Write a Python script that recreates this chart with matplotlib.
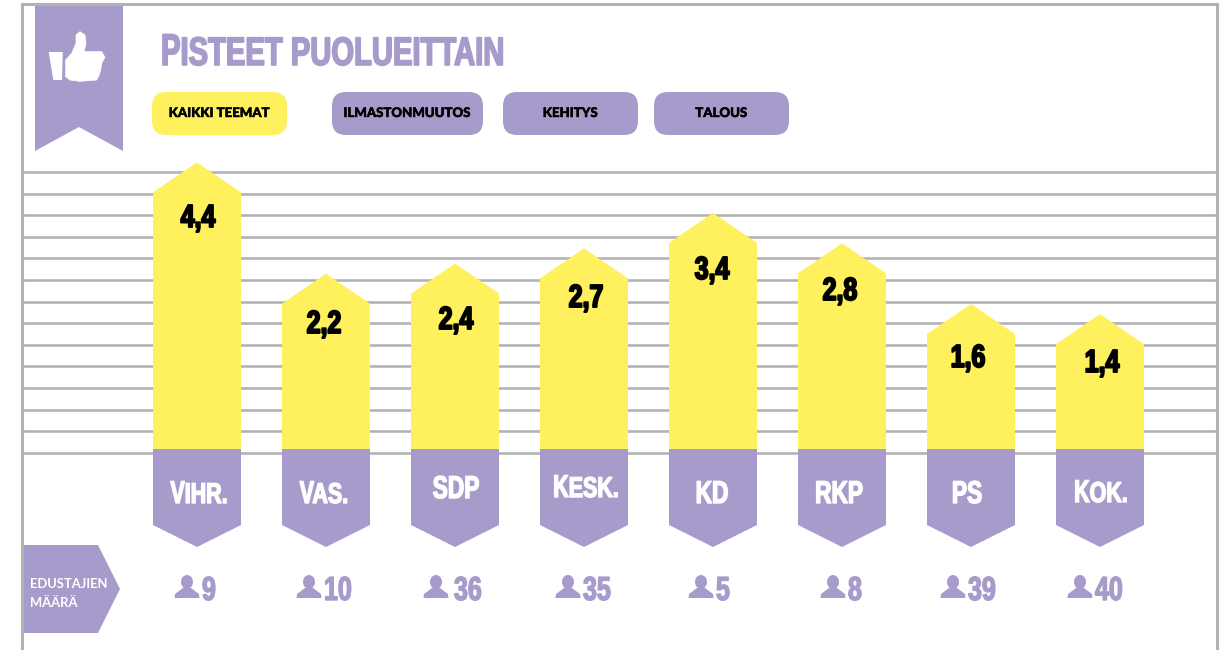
import matplotlib
matplotlib.use("Agg")
import matplotlib.pyplot as plt
import matplotlib.patheffects as pe
import numpy as np
from matplotlib.font_manager import FontProperties
from matplotlib.patches import Ellipse, FancyBboxPatch, Polygon
from matplotlib.path import Path
from matplotlib.textpath import text_to_path
from matplotlib.transforms import Affine2D, blended_transform_factory

# data
parties = ["VIHR.", "VAS.", "SDP", "KESK.", "KD", "RKP", "PS", "KOK."]
small_caps = [True, True, False, True, False, False, False, True]
scores = [4.4, 2.2, 2.4, 2.7, 3.4, 2.8, 1.6, 1.4]
score_labels = ["4,4", "2,2", "2,4", "2,7", "3,4", "2,8", "1,6", "1,4"]
seats = [9, 10, 36, 35, 5, 8, 39, 40]
themes = ["KAIKKI TEEMAT", "ILMASTONMUUTOS", "KEHITYS", "TALOUS"]

PURPLE = "#a79bcc"
YELLOW = "#fff05e"
GREY = "#b3b3b3"
FONT = "Liberation Sans"

W, H = 1224, 650
X0, DX = 197, 129      # pixel of first bar centre, pixels per party
Y0, DY = 415, 50.6     # pixel of score 0, pixels per point
BAR_W = 88 / DX
CAP = 30 / DY
BASE = (Y0 - 449) / DY


class Condense(pe.AbstractPathEffect):
    # no condensed font around, so squeeze the glyphs sideways from the text origin
    # head_n vertices at the start (the first letter) get stretched up for small caps
    def __init__(self, sx, stroke, head_n=0, head_y=1.0):
        super().__init__()
        self.sx = sx
        self.stroke = stroke
        self.head_n = head_n
        self.head_y = head_y

    def draw_path(self, renderer, gc, tpath, affine, rgbFace=None):
        verts = tpath.vertices.copy()
        verts[:self.head_n, 1] *= self.head_y
        gc0 = renderer.new_gc()
        gc0.copy_properties(gc)
        gc0.set_linewidth(self.stroke)
        gc0.set_foreground(rgbFace)
        renderer.draw_path(gc0, Path(verts, tpath.codes), Affine2D().scale(self.sx, 1) + affine, rgbFace)
        gc0.restore()


fig = plt.figure(figsize=(W / 100, H / 100), dpi=100, facecolor="white")

# page furniture lives in pixel coordinates
page = fig.add_axes([0, 0, 1, 1], zorder=0)
page.set_xlim(0, W)
page.set_ylim(H, 0)
page.axis("off")

ax = fig.add_axes([0, 0, 1, 1], zorder=1)
ax.set_xlim(-X0 / DX, (W - X0) / DX)
ax.set_ylim((Y0 - H) / DY, Y0 / DY)
ax.axis("off")
ax.patch.set_alpha(0)
x_cat_y_px = blended_transform_factory(ax.transData, page.transData)

# frame and grid
for y in np.arange(172, 455, 21.6):
    page.plot([22, 1217], [y, y], color=GREY, lw=1.9, solid_capstyle="butt")
page.plot([22, 22, 1217, 1217], [H, 4, 4, H], color=GREY, lw=2.2, solid_joinstyle="miter")

# ribbon with thumb
page.add_patch(Polygon([(35, 5), (123, 5), (123, 151), (79, 127), (35, 151)], color=PURPLE, lw=0))
page.add_patch(Polygon([(48.7, 52), (62.7, 52), (62, 80), (53.3, 80)], color="white", lw=0))
hand = [(197, 180), (215, 160), (228, 130), (228, 105), (240, 95), (255, 105), (258, 130), (252, 155),
        (305, 155), (315, 172), (305, 190), (303, 205), (298, 225), (290, 240), (240, 244), (210, 240), (197, 230)]
page.add_patch(Polygon(np.array(hand) / 3, fc="white", ec="white", lw=0.5, joinstyle="round"))

fig.canvas.draw()
renderer = fig.canvas.get_renderer()
prop = FontProperties(family=FONT, weight="bold")


def squeezed(x, y, s, size, color, sx, stroke, center=False, head_y=1.0):
    head_n = 0
    if head_y != 1.0:
        head_n = len(text_to_path.get_text_path(prop, s[0])[0])
    t = ax.text(x, y, s, fontsize=size, family=FONT, weight="bold", color=color, va="baseline",
                transform=page.transData, path_effects=[Condense(sx, stroke, head_n, head_y)])
    if center:
        t.set_x(x - t.get_window_extent(renderer).width * sx / 2)


squeezed(161, 65, "PISTEET PUOLUEITTAIN", 28.6, PURPLE, 0.735, 1.2, head_y=1.12)

# theme buttons
pills = [(152, 287), (332, 483), (503, 638), (654, 789)]
for k, (theme, (x1, x2)) in enumerate(zip(themes, pills)):
    page.add_patch(FancyBboxPatch((x1 + 14, 106), x2 - x1 - 28, 15, boxstyle="round,pad=14,rounding_size=14",
                                  fc=YELLOW if k == 0 else PURPLE, ec="none"))
    page.text((x1 + x2) / 2, 113, theme, ha="center", va="center", fontsize=9.5, family="Lato", weight="black",
              color="black", path_effects=[pe.withStroke(linewidth=0.35, foreground="black")])

# bars
score_base = [227, 333, 329, 307, 279, 300, 367, 372]
score_x = [198, 324, 456, 586, 712, 840, 968, 1102]
party_base = [503, 503, 498, 497, 503, 503, 503, 502]
party_x = [199, 324, 456, 586, 712, 839, 967, 1101]
icon_x = [187, 309, 436, 568, 701, 833, 953, 1080]
seat_x = [202, 324, 454, 583, 716, 848, 968, 1095]
for i, v in enumerate(scores):
    xl, xr = i - BAR_W / 2, i + BAR_W / 2
    ax.add_patch(Polygon([(xl, BASE), (xl, v), (i, v + CAP), (xr, v), (xr, BASE)], color=YELLOW, lw=0))
    ax.add_patch(Polygon([(xl, 449), (xr, 449), (xr, 525), (i, 547), (xl, 525)], color=PURPLE, lw=0,
                         transform=x_cat_y_px))
    squeezed(score_x[i], score_base[i], score_labels[i], 23, "black", 0.78, 1.4, center=True)
    if small_caps[i]:
        squeezed(party_x[i], party_base[i], parties[i], 20.6, "white", 0.75, 1.0, center=True, head_y=1.1)
    else:
        squeezed(party_x[i], party_base[i], parties[i], 22.7, "white", 0.72, 1.0, center=True)

    # seat count with person icon
    ix = icon_x[i]
    page.add_patch(Ellipse((ix, 582), 12, 14, color=PURPLE, lw=0))
    page.add_patch(Polygon([(ix - 12.5, 598), (ix - 12, 594), (ix - 4, 588), (ix + 4, 588), (ix + 12, 594), (ix + 12.5, 598)],
                           color=PURPLE, lw=0))
    squeezed(seat_x[i], 600, str(seats[i]), 24, PURPLE, 0.75, 1.0)

# seat count tag
page.add_patch(Polygon([(21, 545), (98, 545), (120, 589), (98, 633), (21, 633)], color=PURPLE, lw=0))
page.text(30, 584, "EDUSTAJIEN", fontsize=9.4, family="Lato", weight="bold", color="white", va="center")
page.text(30, 603, "MÄÄRÄ", fontsize=9.4, family="Lato", weight="bold", color="white", va="center")

fig.savefig("out.png", dpi=100)
